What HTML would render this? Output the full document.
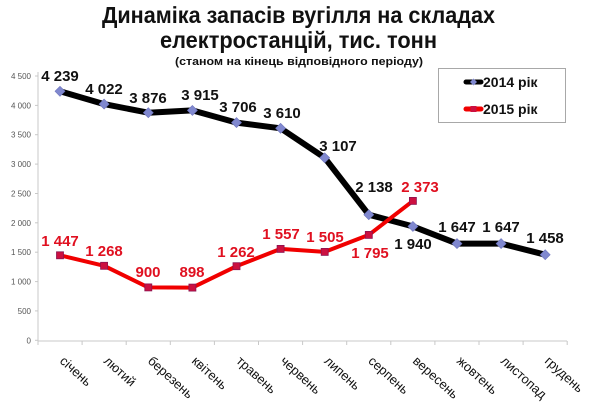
<!DOCTYPE html>
<html>
<head>
<meta charset="utf-8">
<style>
html,body{margin:0;padding:0;background:#fff;}
svg{display:block;}
text{font-family:"Liberation Sans",Arial,sans-serif;}
</style>
</head>
<body>
<svg width="600" height="412" viewBox="0 0 600 412" xmlns="http://www.w3.org/2000/svg">
<rect width="600" height="412" fill="#fff"/>

<!-- Title -->
<text x="298.5" y="23" text-anchor="middle" font-size="23" font-weight="bold" fill="#111" textLength="393" lengthAdjust="spacingAndGlyphs">Динаміка запасів вугілля на складах</text>
<text x="298.5" y="48" text-anchor="middle" font-size="23" font-weight="bold" fill="#111" textLength="277" lengthAdjust="spacingAndGlyphs">електростанцій, тис. тонн</text>
<text x="299" y="65" text-anchor="middle" font-size="11" font-weight="bold" fill="#111" textLength="248" lengthAdjust="spacingAndGlyphs">(станом на кінець відповідного періоду)</text>

<!-- Y axis -->
<line x1="38" y1="72" x2="38" y2="341" stroke="#c8c8c8" stroke-width="1"/>
<g stroke="#c8c8c8" stroke-width="1">
<line x1="35" y1="340.3" x2="38" y2="340.3"/>
<line x1="35" y1="310.9" x2="38" y2="310.9"/>
<line x1="35" y1="281.6" x2="38" y2="281.6"/>
<line x1="35" y1="252.2" x2="38" y2="252.2"/>
<line x1="35" y1="222.8" x2="38" y2="222.8"/>
<line x1="35" y1="193.5" x2="38" y2="193.5"/>
<line x1="35" y1="164.1" x2="38" y2="164.1"/>
<line x1="35" y1="134.7" x2="38" y2="134.7"/>
<line x1="35" y1="105.4" x2="38" y2="105.4"/>
<line x1="35" y1="76" x2="38" y2="76"/>
</g>
<g font-size="8" fill="#555" text-anchor="end">
<text x="31" y="343.3">0</text>
<text x="31" y="313.9">500</text>
<text x="31" y="284.6">1 000</text>
<text x="31" y="255.2">1 500</text>
<text x="31" y="225.8">2 000</text>
<text x="31" y="196.5">2 500</text>
<text x="31" y="167.1">3 000</text>
<text x="31" y="137.7">3 500</text>
<text x="31" y="108.4">4 000</text>
<text x="31" y="79">4 500</text>
</g>

<!-- X axis -->
<line x1="38" y1="341" x2="567" y2="341" stroke="#c8c8c8" stroke-width="1"/>
<g stroke="#c8c8c8" stroke-width="1">
<line x1="38" y1="341" x2="38" y2="345"/>
<line x1="82.1" y1="341" x2="82.1" y2="345"/>
<line x1="126.2" y1="341" x2="126.2" y2="345"/>
<line x1="170.3" y1="341" x2="170.3" y2="345"/>
<line x1="214.4" y1="341" x2="214.4" y2="345"/>
<line x1="258.5" y1="341" x2="258.5" y2="345"/>
<line x1="302.6" y1="341" x2="302.6" y2="345"/>
<line x1="346.7" y1="341" x2="346.7" y2="345"/>
<line x1="390.8" y1="341" x2="390.8" y2="345"/>
<line x1="434.9" y1="341" x2="434.9" y2="345"/>
<line x1="479" y1="341" x2="479" y2="345"/>
<line x1="523.1" y1="341" x2="523.1" y2="345"/>
<line x1="567.2" y1="341" x2="567.2" y2="345"/>
</g>
<g font-size="13" fill="#111">
<text x="59" y="362" transform="rotate(42 59 362)">січень</text>
<text x="103" y="362" transform="rotate(42 103 362)">лютий</text>
<text x="147" y="362" transform="rotate(42 147 362)">березень</text>
<text x="191" y="362" transform="rotate(42 191 362)">квітень</text>
<text x="235.5" y="362" transform="rotate(42 235.5 362)">травень</text>
<text x="279.5" y="362" transform="rotate(42 279.5 362)">червень</text>
<text x="323.5" y="362" transform="rotate(42 323.5 362)">липень</text>
<text x="367.5" y="362" transform="rotate(42 367.5 362)">серпень</text>
<text x="412" y="362" transform="rotate(42 412 362)">вересень</text>
<text x="456" y="362" transform="rotate(42 456 362)">жовтень</text>
<text x="500" y="362" transform="rotate(42 500 362)">листопад</text>
<text x="544" y="362" transform="rotate(42 544 362)">грудень</text>
</g>

<!-- 2014 series -->
<polyline fill="none" stroke="#000" stroke-width="6" stroke-linejoin="round" stroke-linecap="round"
 points="60,91.3 104.1,104.1 148.3,112.7 192.4,110.4 236.5,122.6 280.6,128.3 324.7,157.8 368.8,214.7 412.9,226.4 457,243.6 501.1,243.6 545.2,254.7"/>
<g fill="#8088cf" stroke="#6d74bd" stroke-width="0.6">
<polygon points="60,86.3 65,91.3 60,96.3 55,91.3"/>
<polygon points="104.1,99.1 109.1,104.1 104.1,109.1 99.1,104.1"/>
<polygon points="148.3,107.7 153.3,112.7 148.3,117.7 143.3,112.7"/>
<polygon points="192.4,105.4 197.4,110.4 192.4,115.4 187.4,110.4"/>
<polygon points="236.5,117.6 241.5,122.6 236.5,127.6 231.5,122.6"/>
<polygon points="280.6,123.3 285.6,128.3 280.6,133.3 275.6,128.3"/>
<polygon points="324.7,152.8 329.7,157.8 324.7,162.8 319.7,157.8"/>
<polygon points="368.8,209.7 373.8,214.7 368.8,219.7 363.8,214.7"/>
<polygon points="412.9,221.4 417.9,226.4 412.9,231.4 407.9,226.4"/>
<polygon points="457,238.6 462,243.6 457,248.6 452,243.6"/>
<polygon points="501.1,238.6 506.1,243.6 501.1,248.6 496.1,243.6"/>
<polygon points="545.2,249.7 550.2,254.7 545.2,259.7 540.2,254.7"/>
</g>

<!-- 2015 series -->
<polyline fill="none" stroke="#f00000" stroke-width="4" stroke-linejoin="round" stroke-linecap="round"
 points="60,255.3 104.1,265.8 148.3,287.4 192.4,287.6 236.5,266.2 280.6,248.9 324.7,251.9 368.8,234.9 412.9,200.9"/>
<g fill="#cc1040" stroke="#8a1452" stroke-width="0.8">
<rect x="56.5" y="251.8" width="7" height="7"/>
<rect x="100.6" y="262.3" width="7" height="7"/>
<rect x="144.8" y="283.9" width="7" height="7"/>
<rect x="188.9" y="284.1" width="7" height="7"/>
<rect x="233" y="262.7" width="7" height="7"/>
<rect x="277.1" y="245.4" width="7" height="7"/>
<rect x="321.2" y="248.4" width="7" height="7"/>
<rect x="365.3" y="231.4" width="7" height="7"/>
<rect x="409.4" y="197.4" width="7" height="7"/>
</g>

<!-- 2014 labels -->
<g font-size="15" font-weight="bold" fill="#111" text-anchor="middle">
<text x="60" y="81">4 239</text>
<text x="104" y="94">4 022</text>
<text x="148" y="103">3 876</text>
<text x="200" y="100">3 915</text>
<text x="238" y="112">3 706</text>
<text x="282" y="118">3 610</text>
<text x="338" y="151">3 107</text>
<text x="374" y="192">2 138</text>
<text x="413" y="249">1 940</text>
<text x="457" y="232">1 647</text>
<text x="501" y="232">1 647</text>
<text x="545" y="243">1 458</text>
</g>

<!-- 2015 labels -->
<g font-size="15" font-weight="bold" fill="#e01020" text-anchor="middle">
<text x="60" y="246">1 447</text>
<text x="104" y="256">1 268</text>
<text x="148" y="277">900</text>
<text x="192" y="277">898</text>
<text x="236" y="257">1 262</text>
<text x="281" y="239">1 557</text>
<text x="325" y="242">1 505</text>
<text x="370" y="258">1 795</text>
<text x="420" y="192">2 373</text>
</g>

<!-- Legend -->
<rect x="438.5" y="68.5" width="127" height="54" fill="#fff" stroke="#a8a8a8" stroke-width="1"/>
<line x1="466" y1="82" x2="481" y2="82" stroke="#000" stroke-width="5" stroke-linecap="round"/>
<polygon points="473.5,78.5 477,82 473.5,85.5 470,82" fill="#8088cf"/>
<text x="483" y="87" font-size="14" font-weight="bold" fill="#111">2014 рік</text>
<line x1="466" y1="109" x2="481" y2="109" stroke="#f00000" stroke-width="5" stroke-linecap="round"/>
<rect x="470.5" y="106" width="6" height="6" fill="#cc1040"/>
<text x="483" y="114" font-size="14" font-weight="bold" fill="#111">2015 рік</text>
</svg>
</body>
</html>
